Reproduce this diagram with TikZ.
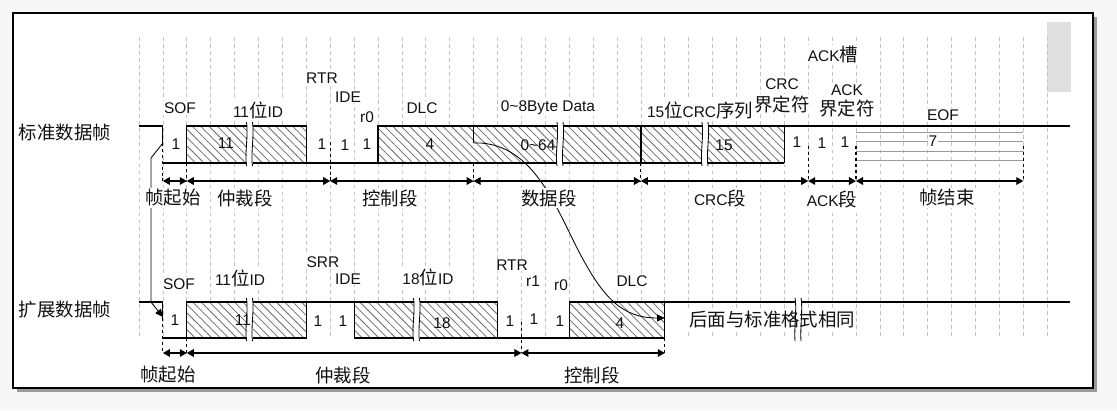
\documentclass[tikz,border=0pt]{standalone}
\usepackage{fontspec}
\setmainfont{Liberation Sans}
\newfontfamily\cjk[Scale=1.19]{Noto Sans CJK SC}
\usetikzlibrary{patterns.meta,arrows.meta}
\definecolor{bgc}{HTML}{F7F7F7}
\definecolor{shadowc}{HTML}{9A9A9A}
\definecolor{gridc}{HTML}{C4C4C4}
\definecolor{hatchc}{HTML}{6A6A6A}
\definecolor{eofc}{HTML}{9A9A9A}
\definecolor{txtc}{HTML}{111111}
\newcommand{\cutmark}[3]{%
  \fill[white] ({#1-3},{#2-0.6}) rectangle ({#1+3},{#3+0.6});
  \draw[line width=0.6pt] ({#1-3},{#2-4}) .. controls ({#1-1},{#2+8}) and ({#1-5},{#3-8}) .. ({#1-3},{#3+3});
  \draw[line width=0.6pt] ({#1+3},{#2-4}) .. controls ({#1+5},{#2+8}) and ({#1+1},{#3-8}) .. ({#1+3},{#3+3});
}
\tikzset{
  lab/.style={font=\fontsize{11pt}{12pt}\selectfont, text=txtc, inner sep=0.8pt, fill=white},
  bit/.style={font=\fontsize{11pt}{12pt}\selectfont, text=txtc, inner sep=0pt},
  seg/.style={font=\fontsize{11pt}{12pt}\selectfont, text=txtc, inner sep=1pt, fill=white},
  gridline/.style={draw=gridc, line width=0.5pt, dash pattern=on 2.6pt off 2.4pt},
  wave/.style={draw=black, line width=0.8pt},
  hatchbox/.style={fill=white, postaction={pattern={Lines[angle=-45,distance=4.2pt,line width=0.55pt]}, pattern color=hatchc}},
  segdash/.style={draw=black, line width=0.75pt, dash pattern=on 2.4pt off 1.8pt},
  segarrow/.style={draw=black, line width=0.75pt, {Triangle[length=5pt,width=5.5pt]}-{Triangle[length=5pt,width=5.5pt]}},
  conn/.style={draw=black, line width=0.6pt, -{Triangle[length=5.5pt,width=5pt]}},
  eofline/.style={draw=eofc, line width=0.6pt}
}
\begin{document}
\begin{tikzpicture}[x=0.025cm,y=-0.025cm]
\useasboundingbox (0,0) rectangle (1117,410);
\fill[bgc] (0,0) rectangle (1117,410);
\fill[shadowc] (16.5,16.5) rectangle (1097,392);
\filldraw[fill=white, draw=black, line width=1pt] (13,13) rectangle (1093,388);
\fill[gray!25] (1047,22) rectangle (1071,92);
% grid
\foreach \i in {0,...,38} \draw[gridline] ({139+23.9*\i},37) -- ({139+23.9*\i},338);

% ===== standard frame =====
\path[hatchbox] (186.8,126) rectangle (306.3,163);
\path[hatchbox] (378,126) rectangle (784.3,163);
\draw[wave] (139,126) -- (162.9,126) -- (162.9,143);
\draw[wave] (162.9,163) -- (784.3,163);
\draw[wave] (186.8,163) -- (186.8,126) -- (306.3,126) -- (306.3,163);
\draw[wave] (378,163) -- (378,126) -- (1070,126);
\draw[wave] (473.6,126) -- (473.6,143);
\draw[wave, line width=1.3pt] (640.9,126) -- (640.9,163);
\draw[wave] (784.3,126) -- (784.3,163);
\cutmark{249.5}{126}{163}
\cutmark{560}{126}{163}
\cutmark{705}{126}{163}
\foreach \y in {132,141,151,160} \draw[eofline] (856,\y) -- (1023.3,\y);

% segment markers standard
\coordinate (s0) at (162.9,181);
\coordinate (s1) at (186.8,181);
\coordinate (s2) at (330.2,181);
\coordinate (s3) at (473.6,181);
\coordinate (s4) at (640.9,181);
\coordinate (s5) at (808.2,181);
\coordinate (s6) at (856,181);
\coordinate (s7) at (1023.3,181);
\draw[segdash] (162.9,143) -- (s0);
\draw[segdash] (186.8,163) -- (s1);
\draw[segdash] (330.2,142) -- (s2);
\draw[segdash] (473.6,163) -- (s3);
\draw[segdash] (640.9,163) -- (s4);
\draw[segdash] (808.2,146) -- (s5);
\draw[segdash] (856,146) -- (s6);
\draw[segdash] (1023.3,146) -- (s7);
\draw[segarrow] (s0) -- (s1);
\draw[segarrow] (s1) -- (s2);
\draw[segarrow] (s2) -- (s3);
\draw[segarrow] (s3) -- (s4);
\draw[segarrow] (s4) -- (s5);
\draw[segarrow] (s5) -- (s6);
\draw[segarrow] (s6) -- (s7);

% ===== extended frame =====
\path[hatchbox] (186.8,302) rectangle (306.3,338);
\path[hatchbox] (354.1,302) rectangle (497.5,338);
\path[hatchbox] (569.2,302) rectangle (664.8,338);
\draw[wave] (139,302) -- (162.9,302) -- (162.9,318);
\draw[wave] (162.9,338) -- (306.3,338) -- (306.3,302);
\draw[wave] (186.8,338) -- (186.8,302) -- (497.5,302) -- (497.5,338);
\draw[wave] (354.1,302) -- (354.1,338) -- (664.8,338) -- (664.8,302);
\draw[wave] (569.2,338) -- (569.2,302) -- (1070,302);
\cutmark{249.5}{302}{338}
\cutmark{416.5}{302}{338}

\coordinate (e0) at (162.9,353);
\coordinate (e1) at (186.8,353);
\coordinate (e2) at (521.4,353);
\coordinate (e3) at (664.8,353);
\draw[segdash] (162.9,318) -- (e0);
\draw[segdash] (186.8,338) -- (e1);
\draw[segdash] (521.4,322) -- (e2);
\draw[segdash] (664.8,338) -- (e3);
\draw[segarrow] (e0) -- (e1);
\draw[segarrow] (e1) -- (e2);
\draw[segarrow] (e2) -- (e3);

% ===== connectors =====
\coordinate (stdSOF) at (162.9,143);
\coordinate (extSOF) at (162.9,317);
\coordinate (stdDATA) at (473.6,143);
\coordinate (extDLC) at (664.8,318);
\draw[conn] (stdSOF) -- (151,158) -- (151,302) -- (extSOF);
\draw[conn] (stdDATA) -- (481,143) .. controls (532,147) and (553,200) .. (578,250) .. controls (603,298) and (622,318) .. (extDLC);

% ===== labels =====
\node[lab, fill=none] (lstd) at (65,133) {\cjk 标准数据帧};
\node[lab, fill=none] (lext) at (65,310) {\cjk 扩展数据帧};

\node[lab] (tSOF) at (180,108) {SOF};
\node[lab] (tID) at (258,110) {11{\cjk 位}ID};
\node[lab] (tRTR) at (322,78) {RTR};
\node[lab] (tIDE) at (348,97) {IDE};
\node[lab] (tr0) at (367,117) {r0};
\node[lab] (tDLC) at (422,108) {DLC};
\node[lab] (tDATA) at (548,108) {0\textasciitilde8Byte Data};
\node[lab] (tCRC) at (700,110) {15{\cjk 位}CRC{\cjk 序列}};
\node[lab] (tCRCd1) at (782,84) {CRC};
\node[lab] (tCRCd2) at (782,104) {\cjk 界定符};
\node[lab] (tACKs) at (833,55) {ACK{\cjk 槽}};
\node[lab] (tACKd1) at (847,90) {ACK};
\node[lab] (tACKd2) at (847,108) {\cjk 界定符};
\node[lab] (tEOF) at (943,115) {EOF};

\node[bit] (b1) at (176,144) {1};
\node[bit] (b2) at (226,143) {11};
\node[bit] (b3) at (322,144) {1};
\node[bit] (b4) at (345,145) {1};
\node[bit] (b5) at (367,144) {1};
\node[bit] (b6) at (430,144) {4};
\node[bit] (b7) at (538,145) {0\textasciitilde64};
\node[bit] (b8) at (724,145) {15};
\node[bit] (b9) at (797,142) {1};
\node[bit] (b10) at (822,143) {1};
\node[bit] (b11) at (845,142) {1};
\node[bit, fill=white, inner sep=0.5pt] (b12) at (933,141) {7};

\node[seg] (g1) at (173,198) {\cjk 帧起始};
\node[seg] (g2) at (245,198) {\cjk 仲裁段};
\node[seg] (g3) at (390,198) {\cjk 控制段};
\node[seg] (g4) at (549,198) {\cjk 数据段};
\node[seg] (g5) at (720,198) {CRC{\cjk 段}};
\node[seg] (g6) at (832,199) {ACK{\cjk 段}};
\node[seg] (g7) at (947,198) {\cjk 帧结束};

\node[lab] (xSOF) at (179,284) {SOF};
\node[lab] (xID) at (240,278) {11{\cjk 位}ID};
\node[lab] (xSRR) at (323,262) {SRR};
\node[lab] (xIDE) at (348,279) {IDE};
\node[lab] (xID2) at (428,277) {18{\cjk 位}ID};
\node[lab] (xRTR) at (512,265) {RTR};
\node[lab] (xr1) at (533,281) {r1};
\node[lab] (xr0) at (561,285) {r0};
\node[lab] (xDLC) at (632,281) {DLC};

\node[bit] (c1) at (175,320) {1};
\node[bit] (c2) at (243,320) {11};
\node[bit] (c3) at (318,321) {1};
\node[bit] (c4) at (343,321) {1};
\node[bit] (c5) at (442,323) {18};
\node[bit] (c6) at (510,321) {1};
\node[bit] (c7) at (534,319) {1};
\node[bit] (c8) at (560,321) {1};
\node[bit] (c9) at (620,323) {4};
\node[lab, anchor=west] (xrest) at (688,320) {\cjk 后面与标准格式相同};

\node[seg] (h1) at (168,375) {\cjk 帧起始};
\node[seg] (h2) at (343,375) {\cjk 仲裁段};
\node[seg] (h3) at (592,375) {\cjk 控制段};

% long break on extended line
\fill[white] (795.5,299) rectangle (801,305);
\draw[line width=0.6pt] (795,298) .. controls (797,306) and (794,330) .. (795,341);
\draw[line width=0.6pt] (801,298) .. controls (803,306) and (800,330) .. (801,341);
\end{tikzpicture}
\end{document}
